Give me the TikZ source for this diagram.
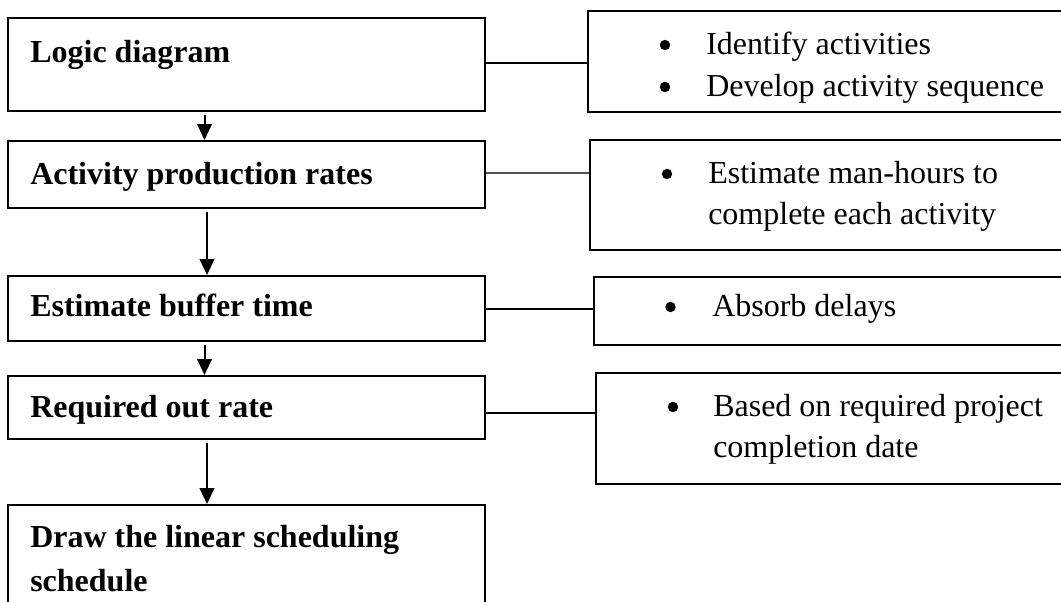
\documentclass[tikz,border=0pt]{standalone}
\usepackage{fontspec}
\setmainfont{Liberation Serif}
\usetikzlibrary{arrows.meta,fit}
\begin{document}
\begin{tikzpicture}[x=0.75pt,y=-0.75pt,
  box/.style={draw,line width=1.5pt,inner sep=0pt,rectangle},
  lbl/.style={anchor=base west,inner sep=0pt,font=\fontsize{24}{33}\selectfont\bfseries},
  item/.style={anchor=base west,inner sep=0pt,font=\fontsize{24}{31}\selectfont},
  conn/.style={line width=1pt},
  arr/.style={line width=1.5pt,-{Triangle[width=11pt,length=12pt]},shorten <=2pt},
  dot/.style={fill=black},
]
\useasboundingbox (0,0) rectangle (1061,601);
\clip (0,0) rectangle (1061,601);

% process steps (left column)
\node[box,fit={(8,18) (485,111)}] (b1) {};
\node[box,fit={(8,141) (485,208)}] (b2) {};
\node[box,fit={(8,276) (485,341)}] (b3) {};
\node[box,fit={(8,376) (485,439)}] (b4) {};
\node[box,fit={(8,505) (485,640)}] (b5) {};

\node[lbl] (t1) at (30,62) {Logic diagram};
\node[lbl] (t2) at (30,184) {Activity production rates};
\node[lbl] (t3) at (30,316) {Estimate buffer time};
\node[lbl] (t4) at (30,417) {Required out rate};
\node[lbl,text width=400pt,align=flush left] (t5) at (30,547) {Draw the linear scheduling\\schedule};

% notes (right column)
\node[box,fit={(588,11) (1080,112)}] (r1) {};
\node[box,fit={(590,140) (1080,250)}] (r2) {};
\node[box,fit={(594,277) (1080,345)}] (r3) {};
\node[box,fit={(596,373) (1080,484)}] (r4) {};

\fill[dot] (665,45) circle (3.9pt);
\fill[dot] (665,87) circle (3.9pt);
\node[item] (n1a) at (706,54) {Identify activities};
\node[item] (n1b) at (706,96) {Develop activity sequence};

\fill[dot] (667,174) circle (3.9pt);
\node[item,text width=330pt,align=flush left] (n2) at (708,183) {Estimate man-hours to\\complete each activity};

\fill[dot] (670.5,307) circle (3.9pt);
\node[item] (n3) at (712,316) {Absorb delays};

\fill[dot] (673,407) circle (3.9pt);
\node[item,text width=330pt,align=flush left] (n4) at (713,416) {Based on required project\\completion date};

% vertical flow arrows
\coordinate (ax1) at (204.5,0);
\coordinate (ax2) at (207,0);
\draw[arr] (b1.south -| ax1) -- (b2.north -| ax1);
\draw[arr] (b2.south -| ax2) -- (b3.north -| ax2);
\draw[arr] (b3.south -| ax1) -- (b4.north -| ax1);
\draw[arr] (b4.south -| ax2) -- (b5.north -| ax2);

% links from each step to its notes
\coordinate (k1) at (540,63);
\coordinate (k2) at (540,173);
\coordinate (k3) at (540,309);
\coordinate (k4) at (540,413);
\draw[conn] (b1.east |- k1) -- (r1.west |- k1);
\draw[conn,draw=black!67] (b2.east |- k2) -- (r2.west |- k2);
\draw[conn] (b3.east |- k3) -- (r3.west |- k3);
\draw[conn] (b4.east |- k4) -- (r4.west |- k4);
\end{tikzpicture}
\end{document}
